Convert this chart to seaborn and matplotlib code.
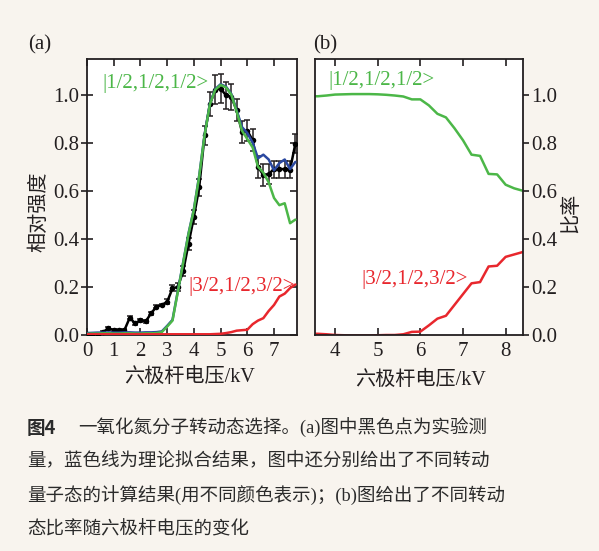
import numpy as np
import pandas as pd
import matplotlib.pyplot as plt
import seaborn as sns

# panel (a): measured signal vs hexapole voltage, with fit and state curves
volt_a = [0.0, 0.2, 0.4, 0.6, 0.8, 1.0, 1.2, 1.4, 1.6, 1.8,
          2.0, 2.2, 2.4, 2.6, 2.8, 3.0, 3.2, 3.4, 3.6, 3.8,
          4.0, 4.2, 4.4, 4.6, 4.8, 5.0, 5.2, 5.4, 5.6, 5.8,
          6.0, 6.2, 6.4, 6.6, 6.8, 7.0, 7.2, 7.4, 7.6, 7.8]
measured = [0.003, 0.002, 0.0, 0.012, 0.028, 0.02, 0.02, 0.02, 0.072, 0.048,
            0.062, 0.057, 0.09, 0.118, 0.125, 0.138, 0.194, 0.2, 0.265, 0.38,
            0.49, 0.615, 0.83, 0.96, 1.02, 1.025, 0.997, 0.99, 0.935, 0.845,
            0.85, 0.81, 0.70, 0.665, 0.67, 0.69, 0.69, 0.69, 0.688, 0.796]
measured_err = [0.006, 0.006, 0.006, 0.006, 0.006, 0.006, 0.006, 0.006, 0.006, 0.006,
                0.006, 0.006, 0.006, 0.006, 0.006, 0.01, 0.012, 0.015, 0.02, 0.025,
                0.03, 0.035, 0.04, 0.05, 0.06, 0.06, 0.055, 0.055, 0.045, 0.045,
                0.045, 0.045, 0.045, 0.045, 0.04, 0.035, 0.035, 0.035, 0.035, 0.04]
fit_a = [0.008, 0.009, 0.010, 0.010, 0.011, 0.010, 0.010, 0.011, 0.011, 0.010,
         0.010, 0.011, 0.011, 0.012, 0.015, 0.038, 0.063, 0.183, 0.303, 0.423,
         0.523, 0.663, 0.833, 0.963, 1.023, 1.043, 1.033, 1.003, 0.935, 0.865,
         0.84, 0.80, 0.735, 0.75, 0.73, 0.685, 0.715, 0.73, 0.69, 0.72]
state_half_a = [0.005, 0.006, 0.006, 0.007, 0.007, 0.006, 0.006, 0.007, 0.007, 0.006,
                0.006, 0.007, 0.007, 0.008, 0.012, 0.035, 0.06, 0.18, 0.30, 0.42,
                0.52, 0.66, 0.83, 0.96, 1.02, 1.04, 1.03, 1.0, 0.93, 0.85,
                0.815, 0.78, 0.70, 0.675, 0.635, 0.57, 0.54, 0.548, 0.465, 0.48]
state_three_half_a = [0.003, 0.003, 0.003, 0.003, 0.003, 0.003, 0.003, 0.003, 0.003, 0.003,
                      0.003, 0.003, 0.003, 0.003, 0.003, 0.003, 0.003, 0.003, 0.003, 0.003,
                      0.003, 0.003, 0.003, 0.003, 0.004, 0.005, 0.008, 0.012, 0.018, 0.02,
                      0.022, 0.045, 0.06, 0.07, 0.10, 0.125, 0.16, 0.172, 0.195, 0.21]

# panel (b): state ratio vs hexapole voltage
volt_b = [3.4, 3.6, 3.8, 4.0, 4.2, 4.4, 4.6, 4.8, 5.0, 5.2, 5.4, 5.6, 5.8,
          6.0, 6.2, 6.4, 6.6, 6.8, 7.0, 7.2, 7.4, 7.6, 7.8, 8.0, 8.2, 8.4]
ratio_half = [0.993, 0.993, 0.996, 1.0, 1.001, 1.002, 1.002, 1.002, 1.001, 0.999, 0.996, 0.992, 0.98,
              0.98, 0.955, 0.92, 0.905, 0.86, 0.81, 0.75, 0.745, 0.67, 0.668, 0.625, 0.61, 0.60]
ratio_three_half = [0.005, 0.005, 0.003, 0.0, -0.001, -0.002, -0.002, -0.002, -0.001, 0.0, 0.0, 0.003, 0.013,
                    0.014, 0.04, 0.068, 0.08, 0.125, 0.17, 0.215, 0.22, 0.285, 0.288, 0.325, 0.335, 0.345]

y_ticks = [0.0, 0.2, 0.4, 0.6, 0.8, 1.0]
x_ticks_a = [0, 1, 2, 3, 4, 5, 6, 7]
x_ticks_b = [4, 5, 6, 7, 8]

label_half = "|1/2,1/2,1/2>"
label_three_half = "|3/2,1/2,3/2>"
xlabel = "六极杆电压/kV"

caption_lines = [
    "一氧化氮分子转动态选择。(a)图中黑色点为实验测",
    "量，蓝色线为理论拟合结果，图中还分别给出了不同转动",
    "量子态的计算结果(用不同颜色表示)；(b)图给出了不同转动",
    "态比率随六极杆电压的变化",
]

df_a = pd.DataFrame({"volt": volt_a, "meas": measured, "err": measured_err,
                     "fit": fit_a, "half": state_half_a, "three": state_three_half_a})
df_b = pd.DataFrame({"volt": volt_b, "half": ratio_half, "three": ratio_three_half})

sns.set_style("ticks")
mixed = ["Liberation Serif", "Noto Sans CJK SC", "DejaVu Sans"]
plt.rcParams["font.family"] = mixed

bg = "#F8F4EE"
green = "#4CB748"
red = "#E8272D"
blue = "#2A48A0"
spine_col = "#231F20"

fig = plt.figure(figsize=(5.99, 5.51), dpi=100)
fig.patch.set_facecolor(bg)

W, H = 599, 551
ax_a = fig.add_axes([87 / W, (H - 335) / H, 210 / W, 276.5 / H])
ax_b = fig.add_axes([315 / W, (H - 335) / H, 207.7 / W, 276.5 / H])

for ax in (ax_a, ax_b):
    ax.set_facecolor("white")
    for s in ax.spines.values():
        s.set_visible(True)
        s.set_color(spine_col)
        s.set_linewidth(1.3)
    ax.set_ylim(0, 1.15)
    ax.set_yticks(y_ticks)
    ax.set_yticklabels([f"{v:.1f}" for v in y_ticks])

# ---- panel (a)
ax = ax_a
ax.errorbar(df_a["volt"], df_a["meas"], yerr=df_a["err"], fmt="none",
            ecolor="#231F20", elinewidth=1.1, capsize=2.5, capthick=1.1, zorder=2)
sns.lineplot(data=df_a, x="volt", y="meas", ax=ax, color="black", lw=1.8,
             marker="o", markersize=4, markeredgewidth=0, estimator=None, sort=False, zorder=3)
sns.lineplot(data=df_a, x="volt", y="fit", ax=ax, color=blue, lw=1.8, estimator=None, zorder=4)
sns.lineplot(data=df_a, x="volt", y="half", ax=ax, color=green, lw=1.8, estimator=None, zorder=5)
sns.lineplot(data=df_a, x="volt", y="three", ax=ax, color=red, lw=1.8, estimator=None, zorder=5)
ax.set_xlim(0, 7.86)
ax.set_xticks(x_ticks_a)
ax.tick_params(axis="x", which="both", direction="in", top=True, bottom=True,
               length=5, width=1.2, labelsize=15, pad=5, colors=spine_col)
ax.tick_params(axis="y", which="both", left=True, right=False, direction="inout",
               length=9, width=1.2, labelsize=15, pad=1, colors=spine_col)
ax.tick_params(labelcolor="#231F20")
# inward ticks on the right edge
ax_r = ax.secondary_yaxis("right")
ax_r.set_yticks(y_ticks)
ax_r.tick_params(direction="in", length=5, width=1.2, labelright=False, colors=spine_col)
ax_r.spines["right"].set_visible(False)
ax.text(0.59, 1.047, label_half, color=green, fontsize=15, va="center", ha="left")
ax.text(3.78, 0.20, label_three_half, color=red, fontsize=15, va="center", ha="left")
ax.set_xlabel(xlabel, fontsize=14.5, color="#231F20", va="center")
ax.xaxis.set_label_coords(0.49, -0.155)
ax.set_ylabel("相对强度", fontsize=14.5, color="#231F20", va="center")
ax.yaxis.set_label_coords(-0.224, 0.445)

# ---- panel (b)
ax = ax_b
sns.lineplot(data=df_b, x="volt", y="half", ax=ax, color=green, lw=1.8, estimator=None)
sns.lineplot(data=df_b, x="volt", y="three", ax=ax, color=red, lw=1.8, estimator=None)
ax.set_xlim(3.53, 8.4)
ax.set_xticks(x_ticks_b)
ax.tick_params(axis="x", which="both", direction="in", top=True, bottom=True,
               length=5, width=1.2, labelsize=15, pad=5, colors=spine_col)
ax.yaxis.tick_right()
ax.yaxis.set_label_position("right")
ax.tick_params(axis="y", which="both", left=False, right=True, direction="out",
               length=4, width=1.2, labelsize=15, pad=2, colors=spine_col)
ax.text(3.84, 1.06, label_half, color=green, fontsize=15, va="center", ha="left")
ax.text(4.62, 0.23, label_three_half, color=red, fontsize=15, va="center", ha="left")
ax.set_xlabel(xlabel, fontsize=14.5, color="#231F20", va="center")
ax.xaxis.set_label_coords(0.509, -0.163)
ax.set_ylabel("比率", fontsize=14.5, color="#231F20", va="center", rotation=90)
ax.yaxis.set_label_coords(1.236, 0.44)

# panel letters
fig.text(28 / W, 1 - 45 / H, "(a)", fontsize=15, va="center", ha="left", color="#231F20")
fig.text(313 / W, 1 - 45 / H, "(b)", fontsize=15, va="center", ha="left", color="#231F20")

# caption
cap_y = [428, 462, 496, 529]
cap_col = "#2B2B2B"
fig.text(27 / W, 1 - cap_y[0] / H, "图4", fontsize=13.3, fontweight="bold",
         family=["Noto Sans CJK SC"], va="center", ha="left", color=cap_col)
fig.text(78 / W, 1 - cap_y[0] / H, caption_lines[0], fontsize=13.3,
         va="center", ha="left", color=cap_col)
for line, yy in zip(caption_lines[1:], cap_y[1:]):
    fig.text(27 / W, 1 - yy / H, line, fontsize=13.3, va="center", ha="left", color=cap_col)

fig.savefig("out.png", dpi=100, facecolor=bg)
